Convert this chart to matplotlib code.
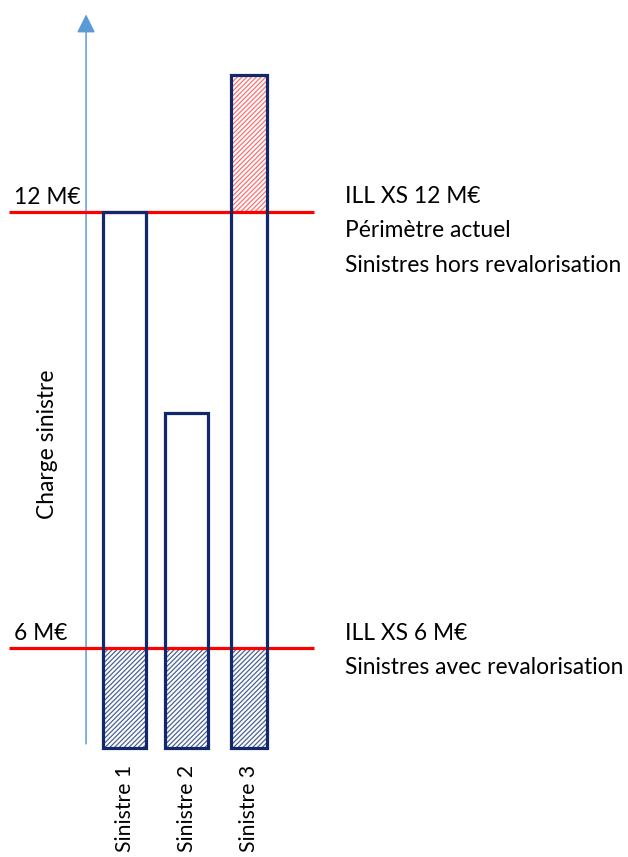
import matplotlib.pyplot as plt
from matplotlib.patches import FancyArrowPatch

plt.rcParams['font.family'] = ['Lato', 'DejaVu Sans']
plt.rcParams['hatch.linewidth'] = 0.9

# claims (M€) - the chart is a schematic, the y axis starts at the base of the bars
sinistres = ['Sinistre 1', 'Sinistre 2', 'Sinistre 3']
charge = [12.0, 9.24, 13.89]
base = 4.62
largeurs = [0.69, 0.68, 0.58]
seuil_bas = 6.0
seuil_haut = 12.0

navy = '#13286a'
red = '#ff0000'
blue = '#5b9bd5'
fs = 16.4

fig = plt.figure(figsize=(6.28, 8.57), dpi=100)
ax = fig.add_axes([0, 0, 1, 1])
ax.set_xlim(-2.008, 8.12)
ax.set_ylim(3.12, 14.92)
ax.axis('off')

x = list(range(len(sinistres)))

# hatched part below the 6 M€ layer (all claims), above 12 M€ in red
for xi, w, c in zip(x, largeurs, charge):
    ax.bar(xi, min(c, seuil_bas) - base, bottom=base, width=w, color='white',
           edgecolor='#4a6296', hatch='///////', linewidth=0, zorder=2)
    if c > seuil_haut:
        ax.bar(xi, c - seuil_haut, bottom=seuil_haut, width=w, color='white',
               edgecolor='#ff7070', hatch='///////', linewidth=0, zorder=2)

# bar outlines
ax.bar(x, [c - base for c in charge], bottom=base, width=largeurs, fill=False,
       edgecolor=navy, linewidth=2.3, zorder=4)

# retention lines
for s in (seuil_bas, seuil_haut):
    ax.plot([-1.863, 3.056], [s, s], color=red, lw=2.3, zorder=3, solid_capstyle='butt')

# vertical axis arrow
ax.add_patch(FancyArrowPatch((-0.62, 4.64), (-0.62, 14.76), arrowstyle='-|>,head_length=0.7,head_width=0.35',
                             mutation_scale=16, color=blue, lw=1.1, zorder=1))

ax.text(-1.78, seuil_haut + 0.05, '12 M€', fontsize=fs, va='bottom', ha='left')
ax.text(-1.78, seuil_bas + 0.05, '6 M€', fontsize=fs, va='bottom', ha='left')
ax.text(-1.24, 8.8, 'Charge sinistre', fontsize=fs, rotation=90, ha='center', va='center')

ax.text(3.55, 12.22, 'ILL XS 12 M€', fontsize=fs, ha='left', va='center')
ax.text(3.55, 11.74, 'Périmètre actuel', fontsize=fs, ha='left', va='center')
ax.text(3.55, 11.27, 'Sinistres hors revalorisation', fontsize=fs, ha='left', va='center')
ax.text(3.55, 6.20, 'ILL XS 6 M€', fontsize=fs, ha='left', va='center')
ax.text(3.55, 5.73, 'Sinistres avec revalorisation', fontsize=fs, ha='left', va='center')

# claim names under the bars, kept inside the bottom edge
for xi, nom in zip(x, sinistres):
    ax.text(xi, 4.39, nom, fontsize=15.2, rotation=90, ha='center', va='top')

fig.savefig('out.png', dpi=100)
